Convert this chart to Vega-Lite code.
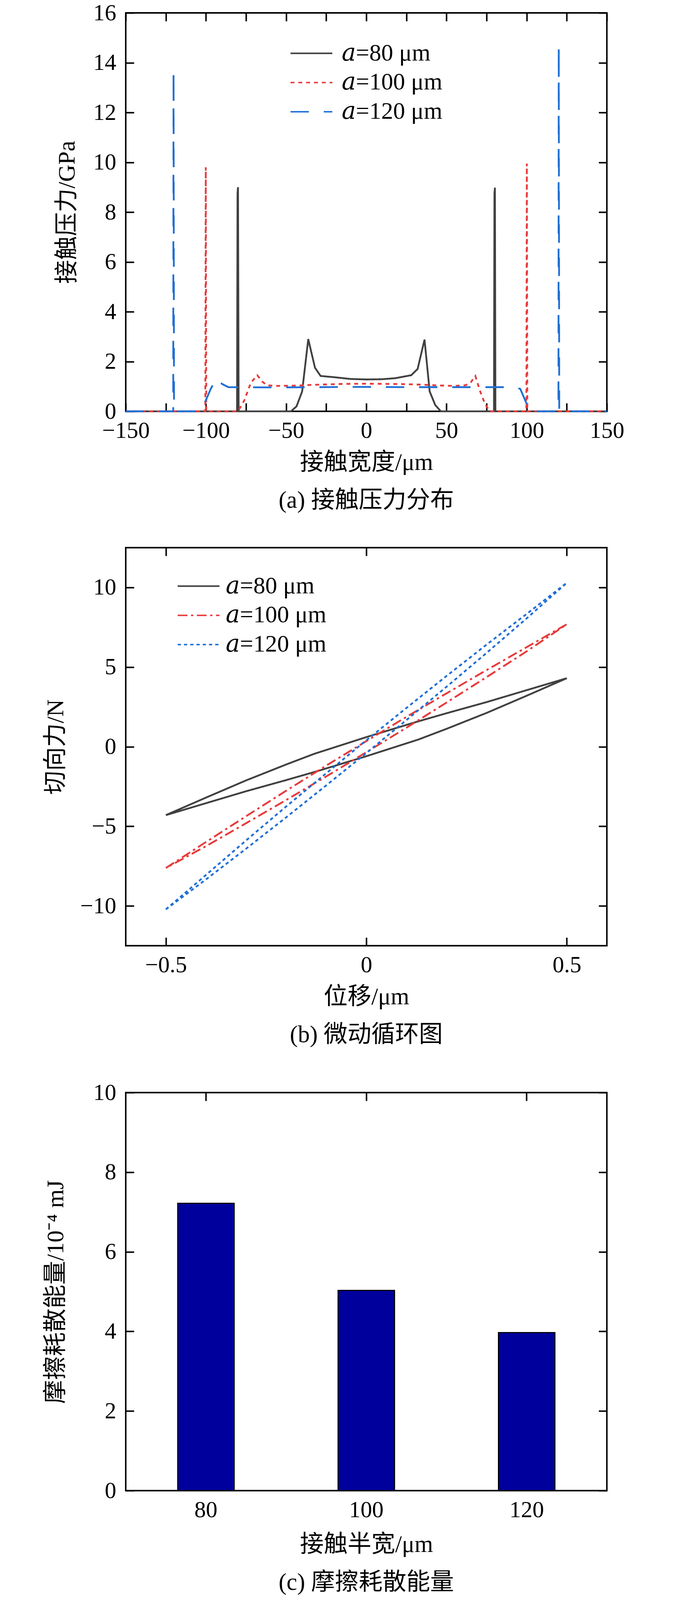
{
  "$schema": "https://vega.github.io/schema/vega-lite/v6.json",
  "description": "Contact pressure, fretting loops and dissipated energy for three contact half-widths.",
  "background": "white",
  "padding": {"left": 110, "top": 2, "right": 10, "bottom": 0},
  "spacing": 84,
  "datasets": {
    "pressure": [
      {"s": "𝑎=80 μm", "x": -150, "p": 0},
      {"s": "𝑎=80 μm", "x": -80.6, "p": 0},
      {"s": "𝑎=80 μm", "x": -80.3, "p": 8.75},
      {"s": "𝑎=80 μm", "x": -80.0, "p": 9.0},
      {"s": "𝑎=80 μm", "x": -79.6, "p": 0},
      {"s": "𝑎=80 μm", "x": -47, "p": 0},
      {"s": "𝑎=80 μm", "x": -43.5, "p": 0.2},
      {"s": "𝑎=80 μm", "x": -40, "p": 0.8},
      {"s": "𝑎=80 μm", "x": -36.2, "p": 2.9},
      {"s": "𝑎=80 μm", "x": -32, "p": 1.75},
      {"s": "𝑎=80 μm", "x": -28.5, "p": 1.42},
      {"s": "𝑎=80 μm", "x": -20, "p": 1.37},
      {"s": "𝑎=80 μm", "x": -10, "p": 1.3},
      {"s": "𝑎=80 μm", "x": 0, "p": 1.28},
      {"s": "𝑎=80 μm", "x": 10, "p": 1.29},
      {"s": "𝑎=80 μm", "x": 18, "p": 1.33},
      {"s": "𝑎=80 μm", "x": 28, "p": 1.45},
      {"s": "𝑎=80 μm", "x": 32, "p": 1.7},
      {"s": "𝑎=80 μm", "x": 36.3, "p": 2.88},
      {"s": "𝑎=80 μm", "x": 39.5, "p": 0.8},
      {"s": "𝑎=80 μm", "x": 43, "p": 0.25},
      {"s": "𝑎=80 μm", "x": 46.5, "p": 0},
      {"s": "𝑎=80 μm", "x": 79.6, "p": 0},
      {"s": "𝑎=80 μm", "x": 79.9, "p": 8.75},
      {"s": "𝑎=80 μm", "x": 80.2, "p": 8.98},
      {"s": "𝑎=80 μm", "x": 80.5, "p": 0},
      {"s": "𝑎=80 μm", "x": 150, "p": 0},
      {"s": "𝑎=100 μm", "x": -150, "p": 0},
      {"s": "𝑎=100 μm", "x": -100.4, "p": 0},
      {"s": "𝑎=100 μm", "x": -100.1, "p": 9.8},
      {"s": "𝑎=100 μm", "x": -99.8, "p": 0},
      {"s": "𝑎=100 μm", "x": -80, "p": 0},
      {"s": "𝑎=100 μm", "x": -76, "p": 0.45},
      {"s": "𝑎=100 μm", "x": -72, "p": 1.15},
      {"s": "𝑎=100 μm", "x": -68, "p": 1.45},
      {"s": "𝑎=100 μm", "x": -65, "p": 1.2},
      {"s": "𝑎=100 μm", "x": -62, "p": 1.05},
      {"s": "𝑎=100 μm", "x": -57, "p": 1.02},
      {"s": "𝑎=100 μm", "x": -45, "p": 1.03},
      {"s": "𝑎=100 μm", "x": -35, "p": 1.06},
      {"s": "𝑎=100 μm", "x": -25, "p": 1.08},
      {"s": "𝑎=100 μm", "x": -15, "p": 1.1},
      {"s": "𝑎=100 μm", "x": 0, "p": 1.11},
      {"s": "𝑎=100 μm", "x": 15, "p": 1.1},
      {"s": "𝑎=100 μm", "x": 25, "p": 1.09},
      {"s": "𝑎=100 μm", "x": 35, "p": 1.07},
      {"s": "𝑎=100 μm", "x": 45, "p": 1.04},
      {"s": "𝑎=100 μm", "x": 55, "p": 1.02},
      {"s": "𝑎=100 μm", "x": 62, "p": 1.05},
      {"s": "𝑎=100 μm", "x": 65, "p": 1.15},
      {"s": "𝑎=100 μm", "x": 68, "p": 1.42},
      {"s": "𝑎=100 μm", "x": 71, "p": 0.8},
      {"s": "𝑎=100 μm", "x": 74, "p": 0.3},
      {"s": "𝑎=100 μm", "x": 77, "p": 0},
      {"s": "𝑎=100 μm", "x": 99.8, "p": 0},
      {"s": "𝑎=100 μm", "x": 100.1, "p": 9.95},
      {"s": "𝑎=100 μm", "x": 100.4, "p": 0},
      {"s": "𝑎=100 μm", "x": 150, "p": 0},
      {"s": "𝑎=120 μm", "x": -150, "p": 0},
      {"s": "𝑎=120 μm", "x": -120.4, "p": 0},
      {"s": "𝑎=120 μm", "x": -120.2, "p": 13.65},
      {"s": "𝑎=120 μm", "x": -119.9, "p": 0},
      {"s": "𝑎=120 μm", "x": -104, "p": 0},
      {"s": "𝑎=120 μm", "x": -102, "p": 0.15},
      {"s": "𝑎=120 μm", "x": -97, "p": 0.9},
      {"s": "𝑎=120 μm", "x": -93.5, "p": 1.33},
      {"s": "𝑎=120 μm", "x": -90, "p": 1.1},
      {"s": "𝑎=120 μm", "x": -86, "p": 0.97},
      {"s": "𝑎=120 μm", "x": -60, "p": 0.96},
      {"s": "𝑎=120 μm", "x": -30, "p": 0.97},
      {"s": "𝑎=120 μm", "x": -10, "p": 0.98},
      {"s": "𝑎=120 μm", "x": 0, "p": 0.98},
      {"s": "𝑎=120 μm", "x": 30, "p": 0.97},
      {"s": "𝑎=120 μm", "x": 60, "p": 0.97},
      {"s": "𝑎=120 μm", "x": 88, "p": 0.97},
      {"s": "𝑎=120 μm", "x": 92, "p": 0.98},
      {"s": "𝑎=120 μm", "x": 96, "p": 0.9},
      {"s": "𝑎=120 μm", "x": 98, "p": 0.6},
      {"s": "𝑎=120 μm", "x": 100, "p": 0.3},
      {"s": "𝑎=120 μm", "x": 102, "p": 0},
      {"s": "𝑎=120 μm", "x": 119.8, "p": 0},
      {"s": "𝑎=120 μm", "x": 120, "p": 14.65},
      {"s": "𝑎=120 μm", "x": 120.3, "p": 0},
      {"s": "𝑎=120 μm", "x": 150, "p": 0}
    ],
    "loops": [
      {"s": "𝑎=80 μm", "i": 0, "d": -0.5, "f": -4.3},
      {"s": "𝑎=80 μm", "i": 1, "d": -0.4, "f": -3.2},
      {"s": "𝑎=80 μm", "i": 2, "d": -0.3, "f": -2.12},
      {"s": "𝑎=80 μm", "i": 3, "d": -0.2, "f": -1.12},
      {"s": "𝑎=80 μm", "i": 4, "d": -0.13, "f": -0.45},
      {"s": "𝑎=80 μm", "i": 5, "d": 0, "f": 0.6},
      {"s": "𝑎=80 μm", "i": 6, "d": 0.12, "f": 1.52},
      {"s": "𝑎=80 μm", "i": 7, "d": 0.2, "f": 2.1},
      {"s": "𝑎=80 μm", "i": 8, "d": 0.3, "f": 2.8},
      {"s": "𝑎=80 μm", "i": 9, "d": 0.4, "f": 3.55},
      {"s": "𝑎=80 μm", "i": 10, "d": 0.5, "f": 4.3},
      {"s": "𝑎=80 μm", "i": 11, "d": 0.4, "f": 3.2},
      {"s": "𝑎=80 μm", "i": 12, "d": 0.3, "f": 2.12},
      {"s": "𝑎=80 μm", "i": 13, "d": 0.2, "f": 1.12},
      {"s": "𝑎=80 μm", "i": 14, "d": 0.13, "f": 0.45},
      {"s": "𝑎=80 μm", "i": 15, "d": 0, "f": -0.6},
      {"s": "𝑎=80 μm", "i": 16, "d": -0.12, "f": -1.52},
      {"s": "𝑎=80 μm", "i": 17, "d": -0.2, "f": -2.1},
      {"s": "𝑎=80 μm", "i": 18, "d": -0.3, "f": -2.8},
      {"s": "𝑎=80 μm", "i": 19, "d": -0.4, "f": -3.55},
      {"s": "𝑎=80 μm", "i": 20, "d": -0.5, "f": -4.3},
      {"s": "𝑎=100 μm", "i": 0, "d": -0.5, "f": -7.62},
      {"s": "𝑎=100 μm", "i": 1, "d": -0.4, "f": -5.99},
      {"s": "𝑎=100 μm", "i": 2, "d": -0.3, "f": -4.37},
      {"s": "𝑎=100 μm", "i": 3, "d": -0.2, "f": -2.77},
      {"s": "𝑎=100 μm", "i": 4, "d": -0.1, "f": -1.19},
      {"s": "𝑎=100 μm", "i": 5, "d": 0, "f": 0.35},
      {"s": "𝑎=100 μm", "i": 6, "d": 0.1, "f": 1.87},
      {"s": "𝑎=100 μm", "i": 7, "d": 0.2, "f": 3.35},
      {"s": "𝑎=100 μm", "i": 8, "d": 0.3, "f": 4.81},
      {"s": "𝑎=100 μm", "i": 9, "d": 0.4, "f": 6.25},
      {"s": "𝑎=100 μm", "i": 10, "d": 0.5, "f": 7.69},
      {"s": "𝑎=100 μm", "i": 11, "d": 0.4, "f": 5.99},
      {"s": "𝑎=100 μm", "i": 12, "d": 0.3, "f": 4.37},
      {"s": "𝑎=100 μm", "i": 13, "d": 0.2, "f": 2.77},
      {"s": "𝑎=100 μm", "i": 14, "d": 0.1, "f": 1.19},
      {"s": "𝑎=100 μm", "i": 15, "d": 0, "f": -0.35},
      {"s": "𝑎=100 μm", "i": 16, "d": -0.1, "f": -1.87},
      {"s": "𝑎=100 μm", "i": 17, "d": -0.2, "f": -3.35},
      {"s": "𝑎=100 μm", "i": 18, "d": -0.3, "f": -4.81},
      {"s": "𝑎=100 μm", "i": 19, "d": -0.4, "f": -6.25},
      {"s": "𝑎=100 μm", "i": 20, "d": -0.5, "f": -7.62},
      {"s": "𝑎=120 μm", "i": 0, "d": -0.5, "f": -10.22},
      {"s": "𝑎=120 μm", "i": 1, "d": -0.4, "f": -8.06},
      {"s": "𝑎=120 μm", "i": 2, "d": -0.3, "f": -5.89},
      {"s": "𝑎=120 μm", "i": 3, "d": -0.2, "f": -3.76},
      {"s": "𝑎=120 μm", "i": 4, "d": -0.1, "f": -1.67},
      {"s": "𝑎=120 μm", "i": 5, "d": 0, "f": 0.4},
      {"s": "𝑎=120 μm", "i": 6, "d": 0.1, "f": 2.43},
      {"s": "𝑎=120 μm", "i": 7, "d": 0.2, "f": 4.44},
      {"s": "𝑎=120 μm", "i": 8, "d": 0.3, "f": 6.41},
      {"s": "𝑎=120 μm", "i": 9, "d": 0.4, "f": 8.34},
      {"s": "𝑎=120 μm", "i": 10, "d": 0.5, "f": 10.29},
      {"s": "𝑎=120 μm", "i": 11, "d": 0.4, "f": 8.06},
      {"s": "𝑎=120 μm", "i": 12, "d": 0.3, "f": 5.89},
      {"s": "𝑎=120 μm", "i": 13, "d": 0.2, "f": 3.76},
      {"s": "𝑎=120 μm", "i": 14, "d": 0.1, "f": 1.67},
      {"s": "𝑎=120 μm", "i": 15, "d": 0, "f": -0.4},
      {"s": "𝑎=120 μm", "i": 16, "d": -0.1, "f": -2.43},
      {"s": "𝑎=120 μm", "i": 17, "d": -0.2, "f": -4.44},
      {"s": "𝑎=120 μm", "i": 18, "d": -0.3, "f": -6.41},
      {"s": "𝑎=120 μm", "i": 19, "d": -0.4, "f": -8.34},
      {"s": "𝑎=120 μm", "i": 20, "d": -0.5, "f": -10.22}
    ],
    "energy": [
      {"w": "80", "e": 7.22},
      {"w": "100", "e": 5.03},
      {"w": "120", "e": 3.97}
    ]
  },
  "vconcat": [
    {
      "width": 1232,
      "height": 1020,
      "title": {"text": "(a) 接触压力分布"},
      "data": {"name": "pressure"},
      "layer": [
        {
          "mark": {"type": "line", "strokeWidth": 4.6},
          "encoding": {
            "x": {
              "field": "x", "type": "quantitative",
              "scale": {"domain": [-150, 150], "nice": false},
              "axis": {
                "orient": "bottom", "title": "接触宽度/μm",
                "values": [-150, -125, -100, -75, -50, -25, 0, 25, 50, 75, 100, 125, 150],
                "labelExpr": "datum.value % 50 === 0 ? datum.label : ''",
                "titleX": 616, "titleY": 131, "titleBaseline": "middle"
              }
            },
            "y": {
              "field": "p", "type": "quantitative",
              "scale": {"domain": [0, 16], "nice": false},
              "axis": {
                "orient": "left", "title": "接触压力/GPa",
                "values": [0, 2, 4, 6, 8, 10, 12, 14, 16],
                "titleX": -150, "titleY": 510, "titleBaseline": "middle"
              }
            },
            "color": {
              "field": "s", "type": "nominal",
              "scale": {"domain": ["𝑎=80 μm", "𝑎=100 μm", "𝑎=120 μm"], "range": ["#404040", "#e83a3a", "#1f6fd6"]},
              "legend": {"orient": "none", "legendX": 420, "legendY": 73, "labelOffset": 22}
            },
            "strokeDash": {
              "field": "s", "type": "nominal",
              "scale": {"domain": ["𝑎=80 μm", "𝑎=100 μm", "𝑎=120 μm"], "range": [[1, 0], [10, 10], [47, 38]]},
              "legend": {"orient": "none", "legendX": 420, "legendY": 73, "labelOffset": 22}
            }
          }
        },
        {
          "mark": {"type": "point", "opacity": 0},
          "encoding": {
            "x": {
              "field": "x", "type": "quantitative",
              "axis": {"orient": "top", "labels": false, "title": null,
                "values": [-150, -125, -100, -75, -50, -25, 0, 25, 50, 75, 100, 125, 150]}
            },
            "y": {
              "field": "p", "type": "quantitative",
              "axis": {"orient": "right", "labels": false, "title": null,
                "values": [0, 2, 4, 6, 8, 10, 12, 14, 16]}
            }
          }
        }
      ],
      "resolve": {"axis": {"x": "independent", "y": "independent"}}
    },
    {
      "width": 1232,
      "height": 1019,
      "title": {"text": "(b) 微动循环图"},
      "data": {"name": "loops"},
      "layer": [
        {
          "mark": {"type": "line", "strokeWidth": 4.6},
          "encoding": {
            "x": {
              "field": "d", "type": "quantitative",
              "scale": {"domain": [-0.6, 0.6], "nice": false},
              "axis": {
                "orient": "bottom", "title": "位移/μm",
                "values": [-0.5, 0, 0.5], "format": "~g",
                "titleX": 616, "titleY": 131, "titleBaseline": "middle"
              }
            },
            "y": {
              "field": "f", "type": "quantitative",
              "scale": {"domain": [-12.5, 12.5], "nice": false},
              "axis": {
                "orient": "left", "title": "切向力/N",
                "values": [-10, -5, 0, 5, 10],
                "titleX": -179, "titleY": 510, "titleBaseline": "middle"
              }
            },
            "order": {"field": "i", "type": "quantitative"},
            "color": {
              "field": "s", "type": "nominal",
              "scale": {"domain": ["𝑎=80 μm", "𝑎=100 μm", "𝑎=120 μm"], "range": ["#404040", "#e83a3a", "#1f6fd6"]},
              "legend": {"orient": "none", "legendX": 131, "legendY": 68, "labelOffset": 14}
            },
            "strokeDash": {
              "field": "s", "type": "nominal",
              "scale": {"domain": ["𝑎=80 μm", "𝑎=100 μm", "𝑎=120 μm"], "range": [[1, 0], [25, 9, 6, 9], [8.5, 7.5]]},
              "legend": {"orient": "none", "legendX": 131, "legendY": 68, "labelOffset": 14}
            }
          }
        },
        {
          "mark": {"type": "point", "opacity": 0},
          "encoding": {
            "x": {
              "field": "d", "type": "quantitative",
              "axis": {"orient": "top", "labels": false, "title": null, "values": [-0.5, 0, 0.5]}
            },
            "y": {
              "field": "f", "type": "quantitative",
              "axis": {"orient": "right", "labels": false, "title": null, "values": [-10, -5, 0, 5, 10]}
            }
          }
        }
      ],
      "resolve": {"axis": {"x": "independent", "y": "independent"}}
    },
    {
      "width": 1232,
      "height": 1019,
      "title": {"text": "(c) 摩擦耗散能量"},
      "data": {"name": "energy"},
      "layer": [
        {
          "mark": {"type": "bar", "fill": "#00009c", "stroke": "black", "strokeWidth": 2.8},
          "encoding": {
            "x": {
              "field": "w", "type": "ordinal",
              "scale": {"domain": ["80", "100", "120"], "paddingInner": 0.648, "paddingOuter": 0.324},
              "axis": {
                "orient": "bottom", "title": "接触半宽/μm", "bandPosition": 0.5,
                "titleX": 616, "titleY": 138, "titleBaseline": "middle"
              }
            },
            "y": {
              "field": "e", "type": "quantitative",
              "scale": {"domain": [0, 10], "nice": false},
              "axis": {
                "orient": "left", "title": "摩擦耗散能量/10⁻⁴ mJ",
                "values": [0, 2, 4, 6, 8, 10],
                "titleX": -179, "titleY": 510, "titleBaseline": "middle"
              }
            }
          }
        },
        {
          "mark": {"type": "bar", "opacity": 0},
          "encoding": {
            "x": {
              "field": "w", "type": "ordinal",
              "axis": {"orient": "top", "labels": false, "title": null, "bandPosition": 0.5}
            },
            "y": {
              "field": "e", "type": "quantitative",
              "axis": {"orient": "right", "labels": false, "title": null, "values": [0, 2, 4, 6, 8, 10]}
            }
          }
        }
      ],
      "resolve": {"axis": {"x": "independent", "y": "independent"}}
    }
  ],
  "resolve": {
    "scale": {"color": "independent", "strokeDash": "independent"},
    "legend": {"color": "independent", "strokeDash": "independent"}
  },
  "config": {
    "view": {"stroke": "black", "strokeWidth": 3.8},
    "axis": {
      "domain": false,
      "grid": false,
      "ticks": true,
      "tickSize": -21,
      "tickWidth": 3.8,
      "tickColor": "black",
      "labelFont": "Liberation Serif",
      "labelFontSize": 59,
      "labelColor": "black",
      "labelFlush": false,
      "labelOverlap": false,
      "labelBound": false,
      "titleFont": "Liberation Serif, Noto Sans CJK SC",
      "titleFontSize": 61,
      "titleFontWeight": "normal",
      "titleColor": "black"
    },
    "axisX": {"labelPadding": 41.4, "labelAngle": 0},
    "axisY": {"labelPadding": 45.7},
    "legend": {
      "title": null,
      "padding": 0,
      "symbolType": "stroke",
      "symbolSize": 11449,
      "symbolStrokeWidth": 3.8,
      "clipHeight": 61,
      "labelFont": "Liberation Serif, DejaVu Serif",
      "labelFontSize": 61,
      "labelColor": "black",
      "labelLimit": 0,
      "rowPadding": 12.8
    },
    "title": {
      "orient": "bottom",
      "anchor": "middle",
      "offset": 38,
      "font": "Liberation Serif, Noto Sans CJK SC",
      "fontSize": 61,
      "fontWeight": "normal",
      "color": "black"
    }
  }
}
